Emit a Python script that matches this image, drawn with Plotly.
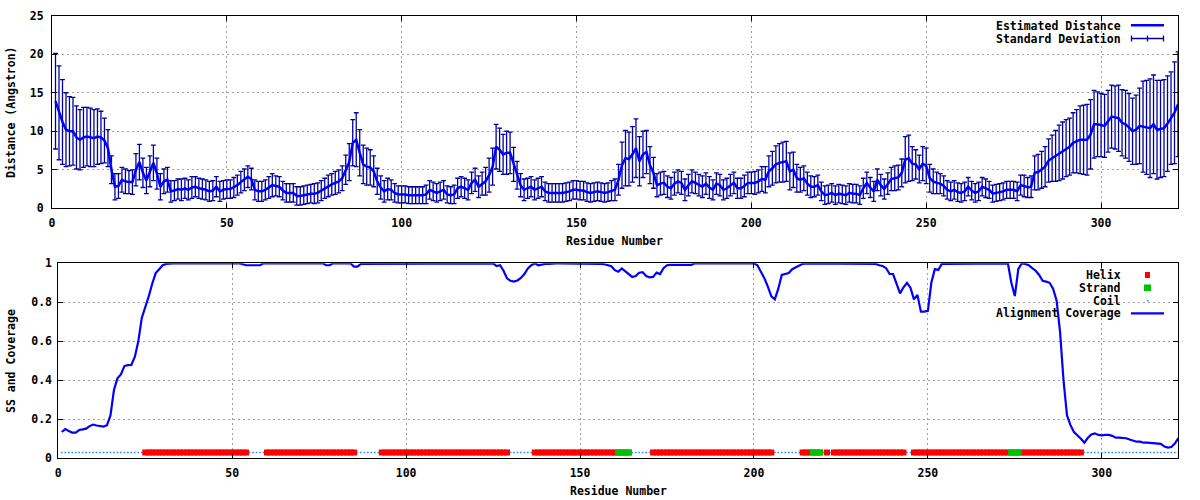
import plotly.graph_objects as go

# ---------------- data ----------------
residues = list(range(1, 323))

distance = [
    13.9, 12.4, 11.2, 10.2, 10.0, 10.0, 9.2, 8.9, 9.2, 9.3,
    9.2, 9.1, 9.3, 9.2, 8.8, 7.8, 5.0, 2.8, 2.9, 3.7,
    3.5, 3.4, 3.4, 5.0, 6.0, 4.6, 3.6, 4.8, 5.9, 4.5,
    2.8, 3.5, 3.7, 2.2, 2.3, 2.5, 2.4, 2.6, 2.4, 2.7,
    2.8, 2.6, 2.5, 2.4, 2.2, 2.3, 2.8, 2.2, 2.4, 2.5,
    2.5, 2.7, 3.0, 3.4, 3.7, 4.1, 3.8, 2.4, 2.2, 2.2,
    2.4, 2.7, 3.0, 2.9, 2.8, 2.3, 2.0, 2.0, 2.0, 1.6,
    1.6, 1.7, 1.8, 1.9, 1.9, 2.0, 2.3, 2.6, 2.9, 3.1,
    3.3, 3.5, 3.9, 5.0, 6.0, 8.5, 8.9, 7.2, 5.7, 5.4,
    5.3, 4.8, 3.5, 2.7, 2.2, 2.5, 2.4, 2.0, 1.8, 1.8,
    1.8, 1.7, 1.7, 1.7, 1.7, 1.7, 1.8, 2.4, 2.2, 2.0,
    2.2, 2.4, 1.8, 1.7, 1.8, 2.6, 2.8, 2.6, 2.4, 3.3,
    3.7, 2.8, 3.2, 3.5, 4.3, 5.4, 8.0, 7.6, 7.0, 7.2,
    7.2, 5.7, 4.3, 3.0, 2.4, 2.6, 2.8, 2.4, 2.6, 2.8,
    2.2, 2.0, 2.0, 2.0, 2.0, 2.0, 2.1, 2.2, 2.4, 2.4,
    2.3, 2.3, 2.1, 2.0, 2.1, 2.2, 2.1, 2.0, 2.1, 2.3,
    2.4, 3.7, 5.6, 6.5, 6.4, 7.0, 7.8, 6.1, 7.0, 7.3,
    5.6, 4.6, 3.0, 3.2, 3.3, 2.8, 2.6, 3.2, 3.5, 3.3,
    2.4, 3.0, 3.5, 3.3, 3.0, 2.8, 3.2, 2.7, 2.4, 3.2,
    3.0, 2.4, 2.6, 3.0, 3.3, 2.6, 2.6, 2.9, 3.3, 3.3,
    3.3, 3.5, 3.8, 3.7, 4.8, 5.2, 5.7, 5.9, 6.0, 6.1,
    4.8, 5.0, 3.9, 3.7, 3.9, 3.2, 2.8, 2.8, 3.0, 2.2,
    1.7, 1.8, 2.0, 1.7, 1.9, 1.8, 1.7, 2.0, 1.9, 1.9,
    1.7, 2.6, 3.3, 2.7, 2.2, 3.7, 3.0, 2.5, 3.2, 3.8,
    3.9, 4.0, 4.6, 6.3, 6.5, 5.8, 5.7, 5.1, 5.8, 5.5,
    3.9, 3.5, 3.3, 3.2, 2.9, 2.4, 2.2, 2.4, 2.1, 2.0,
    2.2, 2.8, 2.3, 2.0, 2.2, 2.8, 2.6, 2.4, 1.9, 2.0,
    2.1, 2.2, 2.4, 2.4, 2.4, 2.2, 3.0, 2.9, 2.7, 2.8,
    4.6, 4.7, 5.0, 5.4, 6.2, 6.5, 6.8, 7.2, 7.5, 7.8,
    8.0, 8.5, 8.7, 8.9, 8.9, 8.9, 9.6, 10.9, 10.9, 10.8,
    10.7, 11.3, 11.9, 11.8, 11.7, 11.1, 10.9, 10.5, 10.0, 10.2,
    10.7, 10.6, 10.5, 10.4, 10.9, 10.2, 10.3, 10.4, 11.0, 11.7,
    12.4, 13.5,
]

std_dev = [
    6.2, 6.1, 5.5, 4.8, 4.5, 4.4, 4.1, 3.9, 3.9, 3.8,
    3.8, 3.7, 3.6, 3.4, 2.9, 2.4, 1.8, 1.7, 1.6, 1.6,
    1.6, 1.5, 1.6, 2.1, 2.3, 1.9, 1.7, 2.0, 2.3, 2.0,
    1.7, 1.6, 1.6, 1.4, 1.3, 1.3, 1.4, 1.3, 1.3, 1.4,
    1.3, 1.3, 1.3, 1.3, 1.3, 1.3, 1.3, 1.3, 1.2, 1.2,
    1.2, 1.3, 1.3, 1.4, 1.4, 1.4, 1.4, 1.3, 1.3, 1.3,
    1.3, 1.4, 1.5, 1.3, 1.3, 1.2, 1.2, 1.2, 1.2, 1.2,
    1.2, 1.2, 1.2, 1.2, 1.3, 1.3, 1.3, 1.3, 1.4, 1.4,
    1.5, 1.5, 1.6, 1.9, 2.4, 3.0, 3.5, 3.0, 2.5, 2.4,
    2.3, 2.0, 1.7, 1.5, 1.4, 1.4, 1.3, 1.2, 1.1, 1.1,
    1.1, 1.1, 1.1, 1.1, 1.1, 1.1, 1.2, 1.2, 1.2, 1.2,
    1.2, 1.2, 1.1, 1.1, 1.2, 1.3, 1.3, 1.3, 1.3, 1.4,
    1.5, 1.4, 1.5, 1.8, 2.2, 2.4, 2.9, 2.8, 2.6, 2.8,
    2.7, 2.2, 1.8, 1.5, 1.4, 1.3, 1.3, 1.3, 1.3, 1.3,
    1.2, 1.2, 1.2, 1.2, 1.2, 1.2, 1.2, 1.2, 1.2, 1.2,
    1.2, 1.2, 1.2, 1.2, 1.2, 1.2, 1.2, 1.2, 1.2, 1.3,
    1.4, 2.0, 3.0, 3.6, 3.5, 3.6, 3.8, 3.2, 3.0, 2.8,
    2.4, 2.0, 1.5, 1.5, 1.5, 1.4, 1.4, 1.5, 1.5, 1.5,
    1.4, 1.4, 1.5, 1.4, 1.4, 1.4, 1.4, 1.4, 1.3, 1.4,
    1.4, 1.3, 1.3, 1.4, 1.4, 1.3, 1.3, 1.4, 1.4, 1.4,
    1.5, 1.5, 1.6, 1.7, 2.0, 2.2, 2.4, 2.5, 2.6, 2.6,
    2.4, 2.3, 1.8, 1.6, 1.6, 1.5, 1.4, 1.3, 1.3, 1.2,
    1.2, 1.2, 1.2, 1.2, 1.2, 1.2, 1.2, 1.2, 1.2, 1.2,
    1.2, 1.3, 1.4, 1.3, 1.3, 1.4, 1.4, 1.3, 1.4, 1.5,
    1.6, 1.6, 1.8, 3.0, 3.0, 2.2, 1.9, 1.8, 2.2, 2.3,
    1.8, 1.6, 1.4, 1.3, 1.3, 1.2, 1.2, 1.2, 1.2, 1.2,
    1.2, 1.2, 1.2, 1.2, 1.2, 1.2, 1.2, 1.1, 1.1, 1.1,
    1.1, 1.1, 1.1, 1.1, 1.1, 1.2, 1.3, 1.4, 1.3, 1.4,
    2.2, 2.3, 2.4, 2.6, 2.8, 3.0, 3.3, 3.6, 3.7, 3.7,
    3.7, 3.9, 4.1, 4.4, 4.5, 4.6, 4.5, 4.4, 4.2, 4.1,
    4.1, 4.0, 4.1, 4.1, 4.3, 4.3, 4.4, 4.4, 4.3, 4.5,
    4.9, 5.9, 6.1, 6.4, 6.4, 6.4, 6.3, 6.3, 6.2, 6.0,
    6.6, 6.8,
]

coverage = [
    0.135, 0.150, 0.140, 0.132, 0.132, 0.145, 0.148, 0.152, 0.165, 0.173,
    0.168, 0.167, 0.163, 0.170, 0.220, 0.350, 0.410, 0.430, 0.473, 0.478,
    0.479, 0.520, 0.600, 0.720, 0.770, 0.830, 0.895, 0.950, 0.970, 0.990,
    0.997, 1.000, 1.000, 1.000, 1.000, 1.000, 1.000, 1.000, 1.000, 1.000,
    1.000, 1.000, 1.000, 1.000, 1.000, 1.000, 1.000, 1.000, 1.000, 1.000,
    1.000, 1.000, 0.995, 0.990, 0.990, 0.990, 0.990, 0.990, 1.000, 1.000,
    1.000, 1.000, 1.000, 1.000, 1.000, 1.000, 1.000, 1.000, 1.000, 1.000,
    1.000, 1.000, 1.000, 1.000, 1.000, 1.000, 0.990, 0.990, 1.000, 1.000,
    1.000, 1.000, 1.000, 1.000, 0.983, 0.983, 0.997, 0.997, 0.997, 0.997,
    0.997, 0.997, 0.997, 0.997, 0.997, 0.997, 0.997, 0.997, 0.997, 0.997,
    0.997, 0.997, 0.997, 0.997, 0.997, 0.997, 1.000, 1.000, 1.000, 1.000,
    1.000, 1.000, 1.000, 1.000, 1.000, 1.000, 1.000, 1.000, 1.000, 1.000,
    1.000, 1.000, 1.000, 1.000, 1.000, 0.986, 0.990, 0.962, 0.923, 0.910,
    0.906, 0.912, 0.925, 0.945, 0.974, 0.990, 1.000, 0.990, 0.995, 0.997,
    0.997, 1.000, 1.000, 1.000, 1.000, 1.000, 1.000, 1.000, 1.000, 1.000,
    1.000, 1.000, 1.000, 1.000, 1.000, 0.997, 0.995, 0.990, 0.985, 0.965,
    0.957, 0.974, 0.960, 0.945, 0.930, 0.935, 0.952, 0.955, 0.935, 0.928,
    0.930, 0.952, 0.945, 0.975, 0.990, 0.992, 0.992, 0.992, 0.992, 0.992,
    0.992, 0.992, 1.000, 1.000, 1.000, 1.000, 1.000, 1.000, 1.000, 1.000,
    1.000, 1.000, 1.000, 1.000, 1.000, 1.000, 1.000, 1.000, 1.000, 1.000,
    0.990, 0.960, 0.923, 0.880, 0.830, 0.815, 0.870, 0.940, 0.945, 0.950,
    0.970, 0.980, 0.990, 0.997, 1.000, 1.000, 1.000, 1.000, 1.000, 1.000,
    1.000, 1.000, 1.000, 1.000, 1.000, 1.000, 1.000, 1.000, 1.000, 1.000,
    1.000, 1.000, 1.000, 1.000, 0.997, 0.990, 0.986, 0.975, 0.945, 0.945,
    0.900, 0.846, 0.877, 0.900, 0.875, 0.815, 0.838, 0.752, 0.752, 0.756,
    0.900, 0.970, 0.966, 0.997, 0.997, 0.997, 0.997, 0.997, 1.000, 1.000,
    1.000, 1.000, 1.000, 1.000, 1.000, 1.000, 1.000, 1.000, 1.000, 1.000,
    1.000, 1.000, 1.000, 0.900, 0.832, 0.970, 1.000, 0.997, 0.990, 0.975,
    0.962, 0.940, 0.910, 0.906, 0.900, 0.870, 0.810, 0.650, 0.400, 0.220,
    0.170, 0.135, 0.120, 0.100, 0.080, 0.105, 0.122, 0.128, 0.120, 0.118,
    0.120, 0.120, 0.115, 0.106, 0.106, 0.104, 0.103, 0.096, 0.090, 0.085,
    0.085, 0.080, 0.080, 0.078, 0.077, 0.075, 0.074, 0.060, 0.055, 0.058,
    0.075, 0.103,
]

# secondary structure as (state, run length): H helix, E strand, C coil
ss_segments = [
    ("C", 24), ("H", 30), ("C", 5), ("H", 26), ("C", 7), ("H", 37),
    ("C", 7), ("H", 24), ("E", 4), ("C", 6), ("H", 35), ("C", 8),
    ("H", 3), ("E", 3), ("C", 1), ("H", 1), ("C", 1), ("H", 21),
    ("C", 2), ("H", 28), ("E", 3), ("H", 18), ("C", 28),
]
ss_level = 0.03

x_ticks = [0, 50, 100, 150, 200, 250, 300]
dist_ticks = [0, 5, 10, 15, 20, 25]
cov_ticks = [0, 0.2, 0.4, 0.6, 0.8, 1]
cov_tick_labels = ["0", "0.2", "0.4", "0.6", "0.8", "1"]

# ---------------- derived ----------------
ss = []
for state, n in ss_segments:
    ss += [state] * n
helix_x = [r for r, s in zip(residues, ss) if s == "H"]
strand_x = [r for r, s in zip(residues, ss) if s == "E"]
coil_x = [r for r, s in zip(residues, ss) if s == "C"]

W, H = 1200, 500
def fx(p):
    return p / W
def fy(p):
    return 1 - p / H

FONT = dict(family="DejaVu Sans Mono", size=11.5, color="black", weight="bold")

BLUE = "#0000ff"
EBAR = "#0000a0"
RED = "#ff0000"
GREEN = "#00c000"
COIL = "#1e90ff"

fig = go.Figure()

# top panel
fig.add_trace(go.Scatter(
    x=residues, y=distance, mode="markers",
    marker=dict(size=1, color="rgba(0,0,0,0)"),
    error_y=dict(type="data", array=std_dev, color=EBAR, thickness=1.3, width=2.4),
    xaxis="x", yaxis="y", showlegend=False, hoverinfo="skip",
))
fig.add_trace(go.Scatter(
    x=residues, y=distance, mode="lines", name="Estimated Distance",
    line=dict(color=BLUE, width=2.5), xaxis="x", yaxis="y", showlegend=False,
))

# bottom panel
fig.add_trace(go.Scatter(
    x=coil_x, y=[ss_level] * len(coil_x), mode="markers", name="Coil",
    marker=dict(symbol="square", size=1.6, color=COIL, line=dict(width=0)),
    xaxis="x2", yaxis="y2", showlegend=False,
))
fig.add_trace(go.Scatter(
    x=helix_x, y=[ss_level] * len(helix_x), mode="markers", name="Helix",
    marker=dict(symbol="square", size=6, color=RED, line=dict(width=0)),
    xaxis="x2", yaxis="y2", showlegend=False,
))
fig.add_trace(go.Scatter(
    x=strand_x, y=[ss_level] * len(strand_x), mode="markers", name="Strand",
    marker=dict(symbol="square", size=6.5, color=GREEN, line=dict(width=0)),
    xaxis="x2", yaxis="y2", showlegend=False,
))
fig.add_trace(go.Scatter(
    x=residues, y=coverage, mode="lines", name="Alignment Coverage",
    line=dict(color=BLUE, width=2.2), xaxis="x2", yaxis="y2", showlegend=False,
))

axis_common = dict(
    showgrid=True, gridcolor="#a0a0a0", griddash="2px,3px", gridwidth=1,
    showline=True, linecolor="black", linewidth=1, mirror="ticks",
    ticks="inside", ticklen=5, tickcolor="black", tickwidth=1,
    zeroline=False, tickfont=FONT, automargin=False, fixedrange=True,
)

fig.update_layout(
    width=W, height=H,
    margin=dict(l=0, r=0, t=0, b=0),
    paper_bgcolor="white", plot_bgcolor="white",
    showlegend=False,
    font=FONT,
    xaxis=dict(axis_common, domain=[fx(52), fx(1178)], anchor="y",
               range=[0, 322], tickvals=x_ticks, ticklabelstandoff=4),
    yaxis=dict(axis_common, domain=[fy(208.3), fy(15.7)], anchor="x",
               range=[0, 25], tickvals=dist_ticks, ticklabelstandoff=5),
    xaxis2=dict(axis_common, domain=[fx(58.3), fx(1178.3)], anchor="y2",
                range=[0, 322], tickvals=x_ticks, ticklabelstandoff=4),
    yaxis2=dict(axis_common, domain=[fy(458.3), fy(263.3)], anchor="x2",
                range=[0, 1], tickvals=cov_ticks, ticktext=cov_tick_labels,
                ticklabelstandoff=3),
)

annotations = []
def label(text, x, y, xanchor="center", angle=0):
    annotations.append(dict(
        text=text, x=fx(x), y=fy(y), xref="paper", yref="paper",
        xanchor=xanchor, yanchor="middle", showarrow=False, font=FONT,
        textangle=angle,
    ))

# axis titles
label("Distance (Angstron)", 11, 112, angle=-90)
label("Residue Number", 614, 241)
label("SS and Coverage", 11, 361, angle=-90)
label("Residue Number", 618, 491)

# legend texts
label("Estimated Distance", 1123, 25.7, xanchor="right")
label("Standard Deviation", 1123, 38.7, xanchor="right")
label("Helix", 1123, 275, xanchor="right")
label("Strand", 1123, 287.7, xanchor="right")
label("Coil", 1123, 300.7, xanchor="right")
label("Alignment Coverage", 1123, 313.3, xanchor="right")
fig.update_layout(annotations=annotations)

shapes = []
def seg(x0, y0, x1, y1, color, width):
    shapes.append(dict(type="line", xref="paper", yref="paper",
                       x0=fx(x0), y0=fy(y0), x1=fx(x1), y1=fy(y1),
                       line=dict(color=color, width=width)))
def box(x0, y0, x1, y1, color, layer="above"):
    shapes.append(dict(type="rect", xref="paper", yref="paper",
                       x0=fx(x0), y0=fy(y0), x1=fx(x1), y1=fy(y1),
                       fillcolor=color, line=dict(width=0), layer=layer))

# opaque key background in the lower panel (hides the grid)
box(997, 264, 1177.5, 321, "white", layer="between")

# top key samples
seg(1131, 25.3, 1164, 25.3, BLUE, 2.5)
seg(1131, 38.5, 1164, 38.5, EBAR, 1.3)
for xx in (1131.5, 1147.5, 1163.5):
    seg(xx, 35.5, xx, 41.5, EBAR, 1.3)

# bottom key samples
box(1145, 272, 1150, 278, RED)
box(1144, 284.5, 1151, 291, GREEN)
box(1147, 300, 1148.5, 301.5, COIL)
seg(1131, 313.3, 1164, 313.3, BLUE, 2.2)
fig.update_layout(shapes=shapes)

fig.write_html(
    "out.html",
    config={"displayModeBar": False, "staticPlot": True},
    post_script="document.body.style.margin='0';document.body.style.overflow='hidden';",
)
